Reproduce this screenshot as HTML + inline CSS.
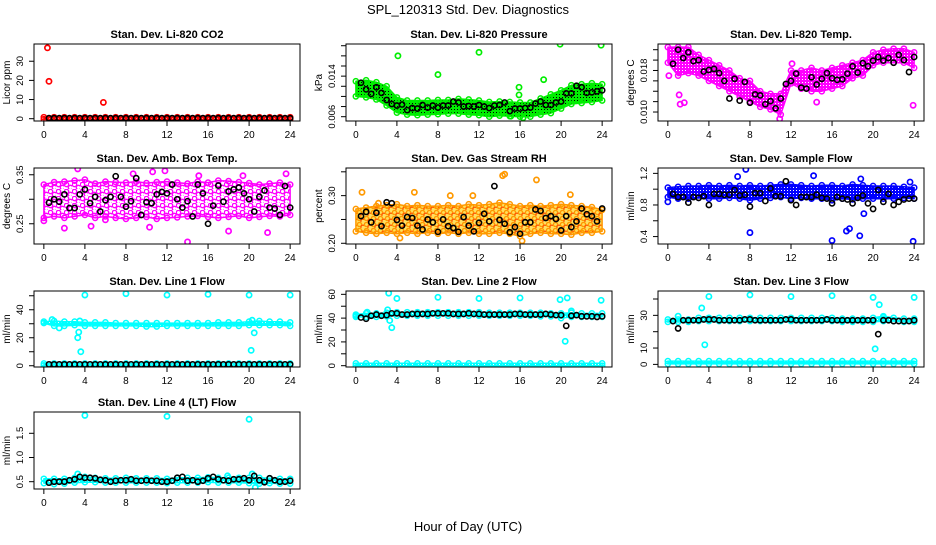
<!DOCTYPE html>
<html><head><meta charset="utf-8"><style>
html,body{margin:0;padding:0;background:#fff}
svg text{font-family:"Liberation Sans",Arial,sans-serif}
</style></head><body>
<svg id="chart" width="936" height="540" viewBox="0 0 936 540" xmlns="http://www.w3.org/2000/svg">
<defs>
<pattern id="pat-red" width="3" height="3" patternUnits="userSpaceOnUse"><rect width="3" height="3" fill="#ff0000"/><rect x="1" y="1" width="1" height="1" fill="#fff"/></pattern>
<pattern id="pat-green" width="3" height="3" patternUnits="userSpaceOnUse"><rect width="3" height="3" fill="#00ee00"/><rect x="1" y="1" width="1" height="1" fill="#000"/></pattern>
<pattern id="pat-magenta" width="3" height="3" patternUnits="userSpaceOnUse"><rect width="3" height="3" fill="#ff00ff"/><rect x="1" y="1" width="1" height="1" fill="#fff"/></pattern>
<pattern id="pat-magenta-ring" width="8" height="7" patternUnits="userSpaceOnUse"><rect width="8" height="7" fill="#fff"/><circle cx="2.5" cy="2.5" r="2.2" fill="none" stroke="#ff00ff" stroke-width="1.4"/><circle cx="6.5" cy="5.5" r="2.2" fill="none" stroke="#ff00ff" stroke-width="1.4"/></pattern>
<pattern id="pat-orange-ring" width="7" height="6" patternUnits="userSpaceOnUse"><rect width="7" height="6" fill="#ffe060"/><circle cx="2.5" cy="2.5" r="2.1" fill="none" stroke="#ff9900" stroke-width="1.4"/><circle cx="6" cy="5.2" r="2.1" fill="none" stroke="#ff5000" stroke-width="1.2"/></pattern>
<pattern id="pat-blue" width="3" height="3" patternUnits="userSpaceOnUse"><rect width="3" height="3" fill="#0000ff"/><rect x="1" y="1" width="1" height="1" fill="#fff"/></pattern>
<pattern id="pat-cyan" width="3" height="3" patternUnits="userSpaceOnUse"><rect width="3" height="3" fill="#00ffff"/><rect x="1" y="1" width="1" height="1" fill="#fff"/></pattern>
</defs>
<text x="468" y="14" text-anchor="middle" font-size="13">SPL_120313  Std. Dev. Diagnostics</text>
<text x="468" y="531" text-anchor="middle" font-size="13">Hour of Day (UTC)</text>
</svg>
<script>
// shared category arrays
const hourlyT = [0,1,2,3,4,5,6,7,8,9,10,11,12,13,14,15,16,17,18,19,20,21,22,23,24];
const halfT = [0,0.5,1,1.5,2,2.5,3,3.5,4,4.5,5,5.5,6,6.5,7,7.5,8,8.5,9,9.5,10,10.5,11,11.5,12,12.5,13,13.5,14,14.5,15,15.5,16,16.5,17,17.5,18,18.5,19,19.5,20,20.5,21,21.5,22,22.5,23,23.5,24];
const xTicks = [0,4,8,12,16,20,24];

// Panel 1 CO2
const co2Lo = [-0.3,-0.3,-0.3,-0.3,-0.3,-0.3,-0.3,-0.3,-0.3,-0.3,-0.3,-0.3,-0.3,-0.3,-0.3,-0.3,-0.3,-0.3,-0.3,-0.3,-0.3,-0.3,-0.3,-0.3,-0.3];
const co2Hi = [0.8,0.8,0.8,0.8,0.8,0.8,0.8,0.8,0.8,0.8,0.8,0.8,0.8,0.8,0.8,0.8,0.8,0.8,0.8,0.8,0.8,0.8,0.8,0.8,0.8];
const co2Black = [null,0.3,0.3,0.3,0.3,0.3,0.3,0.3,0.3,0.3,0.3,0.3,0.3,0.3,0.3,0.3,0.3,0.3,0.3,0.3,0.3,0.3,0.3,0.3,0.3,0.3,0.3,0.3,0.3,0.3,0.3,0.3,0.3,0.3,0.3,0.3,0.3,0.3,0.3,0.3,0.3,0.3,0.3,0.3,0.3,0.3,0.3,0.3,0.3];
const co2OutT = [0.35,0.5,5.8];
const co2OutV = [37,19.5,8.5];

// Panel 2 Pressure
const presLo = [0.0100,0.0098,0.0094,0.0082,0.0068,0.0064,0.0063,0.0064,0.0065,0.0066,0.0066,0.0064,0.0063,0.0060,0.0062,0.0061,0.0060,0.0060,0.0064,0.0067,0.0076,0.0085,0.0087,0.0089,0.0092];
const presHi = [0.0130,0.0132,0.0128,0.0120,0.0098,0.0092,0.0092,0.0092,0.0093,0.0093,0.0095,0.0094,0.0092,0.0089,0.0090,0.0089,0.0088,0.0088,0.0096,0.0104,0.0112,0.0122,0.0124,0.0126,0.0124];
const presBlack = [null,0.0127,0.0114,0.0105,0.0118,0.0107,0.0093,0.0085,0.0082,0.0084,0.0073,0.0077,0.0076,0.0083,0.0078,0.0082,0.0078,0.0082,0.0082,0.0090,0.0088,0.0080,0.0081,0.0080,0.0083,0.0080,0.0077,0.0082,0.0083,0.0088,0.0071,0.0076,0.0076,0.0077,0.0078,0.0086,0.0090,0.0083,0.0083,0.0088,0.0090,0.0106,0.0106,0.0121,0.0118,0.0107,0.0108,0.0110,0.0112];
const presOutT = [4.1,8,12,15.9,15.9,18.3,19.9,23.9,15.1,16.3];
const presOutV = [0.0180,0.0143,0.0187,0.0118,0.0103,0.0133,0.0203,0.0201,0.0061,0.0058];

// Panel 3 Li-820 Temp
const tempLo = [0.0195,0.0170,0.0175,0.0170,0.0160,0.0150,0.0140,0.0130,0.0120,0.0110,0.0105,0.0095,0.0155,0.0145,0.0140,0.0140,0.0145,0.0150,0.0165,0.0170,0.0190,0.0195,0.0195,0.0195,0.0185];
const tempHi = [0.0225,0.0225,0.0225,0.0210,0.0200,0.0190,0.0180,0.0165,0.0160,0.0140,0.0135,0.0135,0.0180,0.0180,0.0185,0.0180,0.0185,0.0190,0.0195,0.0200,0.0215,0.0220,0.0222,0.0222,0.0215];
const tempBlack = [null,0.0193,0.0220,0.0204,0.0215,0.0198,0.0200,0.0178,0.0181,0.0183,0.0175,0.0160,0.0126,0.0164,0.0122,0.0158,0.0118,0.0134,0.0132,0.0115,0.0121,0.0107,0.0126,0.0154,0.0160,0.0174,0.0147,0.0145,0.0167,0.0153,0.0164,0.0175,0.0165,0.0162,0.0163,0.0174,0.0188,0.0176,0.0194,0.0188,0.0199,0.0206,0.0199,0.0204,0.0195,0.0210,0.0200,0.0177,0.0206];
const tempOutT = [0.1,1.2,1.6,1.1,12.1,14.5,23.9,10.9];
const tempOutV = [0.0170,0.0115,0.0118,0.0133,0.0193,0.0119,0.0113,0.0087];

// Panel 4 Amb Box Temp
const ambLo = [0.262,0.265,0.262,0.265,0.268,0.262,0.265,0.262,0.260,0.262,0.264,0.260,0.262,0.263,0.265,0.266,0.264,0.262,0.264,0.266,0.262,0.264,0.266,0.265,0.268];
const ambHi = [0.330,0.335,0.336,0.338,0.340,0.332,0.336,0.335,0.334,0.336,0.333,0.335,0.336,0.334,0.332,0.336,0.334,0.338,0.337,0.335,0.333,0.330,0.332,0.334,0.330];
const ambBlack = [null,0.293,0.300,0.295,0.310,0.282,0.282,0.310,0.320,0.292,0.305,0.275,0.298,0.305,0.347,0.305,0.285,0.296,0.343,0.268,0.294,0.292,0.310,0.315,0.312,0.330,0.300,0.283,0.296,0.265,0.330,0.312,0.250,0.287,0.328,0.295,0.316,0.320,0.324,0.312,0.300,0.275,0.305,0.318,0.283,0.281,0.268,0.327,0.283];
const ambOutT = [3.3,14,21.8,18,2,4.6,10.3,0,6,11.8,10.6,23.6,8.7,15.1,19.4];
const ambOutV = [0.362,0.213,0.232,0.235,0.241,0.245,0.243,0.256,0.258,0.358,0.356,0.352,0.352,0.348,0.348];

// Panel 5 Gas Stream RH
const rhLo = [0.225,0.222,0.220,0.222,0.220,0.222,0.220,0.222,0.220,0.222,0.220,0.222,0.220,0.220,0.222,0.220,0.215,0.220,0.222,0.220,0.220,0.218,0.222,0.222,0.225];
const rhHi = [0.272,0.275,0.278,0.280,0.282,0.278,0.280,0.278,0.278,0.280,0.278,0.282,0.280,0.282,0.285,0.282,0.278,0.280,0.278,0.280,0.282,0.280,0.278,0.276,0.270];
const rhBlack = [null,0.257,0.266,0.244,0.264,0.236,0.286,0.284,0.249,0.237,0.255,0.253,0.237,0.229,0.250,0.244,0.224,0.250,0.236,0.232,0.224,0.255,0.237,0.225,0.243,0.262,0.246,0.320,0.249,0.241,0.223,0.234,0.220,0.244,0.244,0.271,0.268,0.253,0.257,0.251,0.227,0.257,0.234,0.246,0.273,0.261,0.257,0.246,0.273];
const rhOutT = [0.6,5.7,14.5,14.3,17.6,9.2,20.9,16.2,4.3,11.4,2.2];
const rhOutV = [0.307,0.307,0.345,0.342,0.333,0.300,0.302,0.205,0.211,0.300,0.284];

// Panel 6 Sample Flow
const sfLo = [0.90,0.88,0.88,0.89,0.88,0.88,0.89,0.88,0.86,0.88,0.89,0.90,0.88,0.89,0.88,0.88,0.86,0.88,0.87,0.88,0.88,0.88,0.88,0.89,0.88];
const sfHi = [1.02,1.03,1.04,1.04,1.05,1.04,1.05,1.04,1.05,1.04,1.05,1.06,1.06,1.05,1.04,1.05,1.05,1.04,1.06,1.05,1.04,1.04,1.04,1.03,1.02];
const sfBlack = [null,0.94,0.90,0.90,0.83,0.90,0.89,0.91,0.80,0.94,0.94,0.93,0.93,0.99,0.92,0.93,0.78,0.95,0.95,0.85,1.01,0.91,0.91,1.10,0.86,0.80,0.90,0.90,0.90,0.93,0.89,0.88,0.82,0.90,0.88,0.87,0.82,0.89,0.92,0.82,0.75,0.99,0.84,0.94,0.80,0.84,0.87,0.88,0.88];
const sfOutT = [7.6,6.8,14.2,8,16,17.4,17.7,18.7,19.1,23.9,18.8,23.6,0];
const sfOutV = [1.25,1.16,1.17,0.45,0.35,0.47,0.50,0.41,0.69,0.34,1.13,1.09,0.84];

// Panel 7 Line 1 Flow
const l1Lo = [30.5,28.5,28.5,29,28.5,28.5,28.5,28.5,28.5,28.5,28,28,28.5,28.5,28.5,28.5,28.5,28.5,28.5,28.5,29,29,29,29,28.5];
const l1Hi = [31.5,32,31.5,31.5,31,31,31,30.5,30.5,30.5,30.5,30.5,30.5,30.5,30.5,30.5,30.5,31,31,31,31.5,32,31.5,31.5,31];
const l1LowLo = [0.3,0.3,0.3,0.3,0.3,0.3,0.3,0.3,0.3,0.3,0.3,0.3,0.3,0.3,0.3,0.3,0.3,0.3,0.3,0.3,0.3,0.3,0.3,0.3,0.3];
const l1LowHi = [1.6,1.6,1.6,1.6,1.6,1.6,1.6,1.6,1.6,1.6,1.6,1.6,1.6,1.6,1.6,1.6,1.6,1.6,1.6,1.6,1.6,1.6,1.6,1.6,1.6];
const l1Black = [null,1,1,1,1,1,1,1,1,1,1,1,1,1,1,1,1,1,1,1,1,1,1,1,1,1,1,1,1,1,1,1,1,1,1,1,1,1,1,1,1,1,1,1,1,1,1,1,1];
const l1OutT = [4,8,12,16,20,24,0.8,1.5,3.3,3.4,3.6,20.2,20.5,3.5,20.3];
const l1OutV = [50.5,51.5,50.5,51,50.5,50.5,33,27,20,24,10,11,23.5,32,32.5];

// Panel 8 Line 2 Flow
const l2Lo = [41,41,41,41.5,42,42,42,42,42,42,42,42,42,42,42,42,42,42,41.5,41.5,40,41,41,41,41];
const l2Hi = [43,44,44,44.5,45,45,45,45,45,45,45,45,45,44.5,44.5,44.5,44.5,44.5,44.5,44,44,44.5,44,44,44];
const l2LowLo = [0,0,0,0,0,0,0,0,0,0,0,0,0,0,0,0,0,0,0,0,0,0,0,0,0];
const l2LowHi = [2,2,2,2,2,2,2,2,2,2,2,2,2,2,2,2,2,2,2,2,2,2,2,2,2];
const l2Black = [null,40.5,39.5,42,43,42,42.5,44,44,43,43,43.5,43.5,43.5,43.5,44,44,44,44,43.5,43.5,43.5,44,43.5,43.5,43,43,43,43,43,43,43.5,43.5,43,43,43,43,43.5,43,42.5,42.5,33.5,42,42.5,41.5,41.5,41.5,41,41.5];
const l2OutT = [3.2,4,8,12,16,19.9,20.6,23.9,3.3,3.5,20.4,1.1,3.1,21,0];
const l2OutV = [61,56.5,57.5,56.5,57,55.5,57,55,38,32,20.5,45,47,46,42];

// Panel 9 Line 3 Flow
const l3Lo = [26,26,26,26.5,26.5,26.5,26.5,26.5,26.5,26.5,26.5,26.5,26.5,26.5,26.5,26.5,26.5,26,26,26,26,26.5,26.5,26,26];
const l3Hi = [27.5,27.5,27.5,28.5,28.5,28.5,28.5,28.5,28.5,28.5,28.5,28.5,28.5,28.5,28.5,28.5,28.5,28,28,28,28.5,29.5,28.5,28,28];
const l3LowLo = [0.3,0.3,0.3,0.3,0.3,0.3,0.3,0.3,0.3,0.3,0.3,0.3,0.3,0.3,0.3,0.3,0.3,0.3,0.3,0.3,0.3,0.3,0.3,0.3,0.3];
const l3LowHi = [2,2,2,2,2,2,2,2,2,2,2,2,2,2,2,2,2,2,2,2,2,2,2,2,2];
const l3Black = [null,26.5,22,27,27,27,27,27.5,27.5,27.5,27,27,27,27,27,27.5,27.5,27,27,27,27,27,27,27.5,27.5,27,27,27,27,27,27,27.5,27,27,27,27,27,27,27,27,27,18.5,27,27,26.5,26.5,26.5,26.5,27];
const l3OutT = [4,8,12,16,20,24,3.3,20.6,3.6,20.2,1,21];
const l3OutV = [41.5,42.5,41.5,42,41,41,34.5,36.5,12,9.5,29.5,29];

// Panel 10 Line 4 (LT) Flow
const l4Lo = [0.47,0.45,0.46,0.48,0.49,0.49,0.48,0.48,0.48,0.48,0.48,0.48,0.47,0.48,0.48,0.48,0.49,0.48,0.48,0.48,0.47,0.46,0.47,0.46,0.46];
const l4Hi = [0.56,0.56,0.56,0.58,0.60,0.58,0.57,0.57,0.58,0.57,0.57,0.57,0.56,0.58,0.58,0.58,0.59,0.58,0.58,0.58,0.58,0.58,0.57,0.56,0.56];
const l4Black = [null,0.48,0.50,0.50,0.50,0.53,0.55,0.60,0.58,0.58,0.57,0.54,0.53,0.50,0.52,0.53,0.53,0.55,0.52,0.52,0.53,0.52,0.52,0.50,0.50,0.52,0.58,0.60,0.52,0.53,0.50,0.52,0.57,0.60,0.55,0.53,0.52,0.55,0.55,0.57,0.53,0.62,0.53,0.49,0.57,0.53,0.50,0.50,0.52];
const l4OutT = [4,12,20,20.3,20.6,3.3,17.9];
const l4OutV = [1.87,1.85,1.79,0.66,0.38,0.66,0.62];

const NS = 'http://www.w3.org/2000/svg';
const svg = document.getElementById('chart');
function mk(tag, attrs, parent){
  const e = document.createElementNS(NS, tag);
  for (const k in attrs) e.setAttribute(k, attrs[k]);
  (parent||svg).appendChild(e);
  return e;
}
const colX = [34, 346, 658];
const rowY = [[44,121],[168,244],[291,367],[412,489]];
const W = 266;

const panels = [
 {key:'co2',title:'Stan. Dev. Li-820 CO2',ylab:'Licor ppm',c:0,r:0,y0:-1.2,y1:39,ticks:[0,10,20,30],labs:[0,10,20,30],col:'#ff0000',pat:'pat-red',bands:[[co2Lo,co2Hi]],black:co2Black,ot:co2OutT,ov:co2OutV,fmt:0},
 {key:'pressure',title:'Stan. Dev. Li-820 Pressure',ylab:'kPa',c:1,r:0,y0:0.00515,y1:0.02034,ticks:[0.006,0.008,0.010,0.012,0.014,0.016,0.018,0.020],labs:[0.006,0.014],col:'#00ee00',pat:'pat-green',bands:[[presLo,presHi]],black:presBlack,ot:presOutT,ov:presOutV,fmt:3},
 {key:'li820-temp',title:'Stan. Dev. Li-820 Temp.',ylab:'degrees C',c:2,r:0,y0:0.00827,y1:0.0231,ticks:[0.010,0.012,0.014,0.016,0.018,0.020,0.022],labs:[0.010,0.018],col:'#ff00ff',pat:'pat-magenta',bands:[[tempLo,tempHi]],black:tempBlack,ot:tempOutT,ov:tempOutV,fmt:3},
 {key:'amb-box-temp',title:'Stan. Dev. Amb. Box Temp.',ylab:'degrees C',c:0,r:1,y0:0.2087,y1:0.3638,ticks:[0.25,0.30,0.35],labs:[0.25,0.35],col:'#ff00ff',pat:'pat-magenta-ring',bands:[[ambLo,ambHi]],black:ambBlack,ot:ambOutT,ov:ambOutV,fmt:2},
 {key:'gas-rh',title:'Stan. Dev. Gas Stream RH',ylab:'percent',c:1,r:1,y0:0.1985,y1:0.358,ticks:[0.20,0.25,0.30,0.35],labs:[0.20,0.30],col:'#ff9900',pat:'pat-orange-ring',bands:[[rhLo,rhHi]],black:rhBlack,ot:rhOutT,ov:rhOutV,fmt:2},
 {key:'sample-flow',title:'Stan. Dev. Sample Flow',ylab:'ml/min',c:2,r:1,y0:0.306,y1:1.268,ticks:[0.4,0.6,0.8,1.0,1.2],labs:[0.4,0.8,1.2],col:'#0000ff',pat:'pat-blue',bands:[[sfLo,sfHi]],black:sfBlack,ot:sfOutT,ov:sfOutV,fmt:1},
 {key:'line1-flow',title:'Stan. Dev. Line 1 Flow',ylab:'ml/min',c:0,r:2,y0:-0.9,y1:53.4,ticks:[0,10,20,30,40,50],labs:[0,20,40],col:'#00ffff',pat:'pat-cyan',bands:[[l1Lo,l1Hi],[l1LowLo,l1LowHi]],black:l1Black,ot:l1OutT,ov:l1OutV,fmt:0},
 {key:'line2-flow',title:'Stan. Dev. Line 2 Flow',ylab:'ml/min',c:1,r:2,y0:-1.1,y1:62.8,ticks:[0,10,20,30,40,50,60],labs:[0,20,40,60],col:'#00ffff',pat:'pat-cyan',bands:[[l2Lo,l2Hi],[l2LowLo,l2LowHi]],black:l2Black,ot:l2OutT,ov:l2OutV,fmt:0},
 {key:'line3-flow',title:'Stan. Dev. Line 3 Flow',ylab:'ml/min',c:2,r:2,y0:-1.6,y1:44.9,ticks:[0,10,20,30,40],labs:[0,10,30],col:'#00ffff',pat:'pat-cyan',bands:[[l3Lo,l3Hi],[l3LowLo,l3LowHi]],black:l3Black,ot:l3OutT,ov:l3OutV,fmt:0},
 {key:'line4-flow',title:'Stan. Dev. Line 4 (LT) Flow',ylab:'ml/min',c:0,r:3,y0:0.349,y1:1.94,ticks:[0.5,1.0,1.5],labs:[0.5,1.0,1.5],col:'#00ffff',pat:'pat-cyan',bands:[[l4Lo,l4Hi]],black:l4Black,ot:l4OutT,ov:l4OutV,fmt:1}
];

panels.forEach(p => {
  const L = colX[p.c], R = L + W, T = rowY[p.r][0], B = rowY[p.r][1];
  const sx = t => L + (t + 0.96) / 25.92 * W;
  const sy = v => B - (v - p.y0) / (p.y1 - p.y0) * (B - T);
  const g = mk('g', {});
  
  
  const clipId = 'clip-' + p.key;
  const cp = mk('clipPath', {id: clipId}, g);
  mk('rect', {x: L, y: T, width: W, height: B - T}, cp);
  const plot = mk('g', {'clip-path': 'url(#' + clipId + ')'}, g);
  p.bands.forEach((bd) => {
    const lo = bd[0], hi = bd[1];
    let d = '';
    hourlyT.forEach((t, i) => { d += (i ? 'L' : 'M') + sx(t).toFixed(1) + ',' + sy(hi[i]).toFixed(1); });
    for (let i = hourlyT.length - 1; i >= 0; i--) d += 'L' + sx(hourlyT[i]).toFixed(1) + ',' + sy(lo[i]).toFixed(1);
    d += 'Z';
    const band = mk('path', {d: d, fill: 'url(#' + p.pat + ')', stroke: p.col, 'stroke-width': 1.5, 'stroke-linejoin': 'round'}, plot);
    
    
    hourlyT.forEach((t, i) => {
      [lo[i], hi[i]].forEach(v => {
        const c = mk('circle', {cx: sx(t), cy: sy(v), r: 2.6, fill: 'none', stroke: p.col, 'stroke-width': 1.5}, plot);
        
        
      });
    });
  });
  p.ot.forEach((t, i) => {
    const c = mk('circle', {cx: sx(t), cy: sy(p.ov[i]), r: 2.6, fill: 'none', stroke: p.col, 'stroke-width': 1.7}, plot);
    
    
  });
  halfT.forEach((t, i) => {
    const v = p.black[i];
    if (v === null || v === undefined) return;
    const c = mk('circle', {cx: sx(t), cy: sy(v), r: 2.6, fill: 'none', stroke: '#000', 'stroke-width': 1.6}, plot);
    
    
  });
  const box = mk('rect', {x: L, y: T, width: W, height: B - T, fill: 'none', stroke: '#000', 'stroke-width': 1}, g);
  
  
  const tt = mk('text', {x: L + W / 2, y: T - 6, 'text-anchor': 'middle', 'font-size': 11, 'font-weight': 'bold'}, g);
  tt.textContent = p.title;
  
  
  xTicks.forEach(t => {
    const x = sx(t);
    mk('line', {x1: x, y1: B, x2: x, y2: B + 5, stroke: '#000'}, g);
    const lb = mk('text', {x: x, y: B + 17, 'text-anchor': 'middle', 'font-size': 10}, g);
    lb.textContent = t;
    
    
  });
  p.ticks.forEach(v => {
    const y = sy(v);
    mk('line', {x1: L - 5, y1: y, x2: L, y2: y, stroke: '#000'}, g);
  });
  p.labs.forEach(v => {
    const y = sy(v);
    const lb = mk('text', {x: L - 11, y: y, 'text-anchor': 'middle', 'font-size': 9.5, transform: 'rotate(-90 ' + (L - 11) + ' ' + y + ')'}, g);
    lb.textContent = v.toFixed(p.fmt);
    
    
  });
  const ym = (T + B) / 2;
  const yl = mk('text', {x: L - 24, y: ym, 'text-anchor': 'middle', 'font-size': 10, transform: 'rotate(-90 ' + (L - 24) + ' ' + ym + ')'}, g);
  yl.textContent = p.ylab;
  
  
});
</script>
</body></html>
